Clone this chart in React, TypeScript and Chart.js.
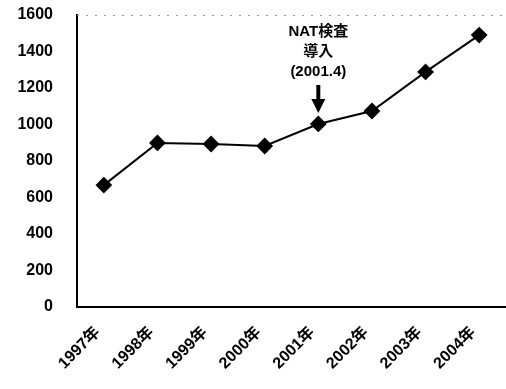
import React, { useEffect, useRef } from "react";
import { Chart, registerables } from "chart.js";

Chart.register(...registerables);

const categories = ["1997年", "1998年", "1999年", "2000年", "2001年", "2002年", "2003年", "2004年"];
const values = [668, 899, 893, 882, 1003, 1074, 1288, 1490];
const yTicks = [0, 200, 400, 600, 800, 1000, 1200, 1400, 1600];
const annotationLines = ["NAT検査", "導入", "(2001.4)"];
const annotationIndex = 4;

const FONT = '"Liberation Sans", "Noto Sans CJK JP", Arial, sans-serif';

const annotationPlugin = {
  id: "natAnnotation",
  afterDatasetsDraw(chart: any) {
    const ctx = chart.ctx;
    const meta = chart.getDatasetMeta(0);
    const pt = meta.data[annotationIndex];
    if (!pt) return;
    const x = pt.x;
    const y = pt.y;
    ctx.save();
    ctx.fillStyle = "#000";
    ctx.strokeStyle = "#000";
    ctx.font = `bold 15px ${FONT}`;
    ctx.textAlign = "center";
    ctx.textBaseline = "middle";
    const offsets = [-92, -72, -52];
    annotationLines.forEach((t, i) => ctx.fillText(t, x, y + offsets[i]));
    // arrow
    ctx.lineWidth = 4;
    ctx.beginPath();
    ctx.moveTo(x, y - 39);
    ctx.lineTo(x, y - 22);
    ctx.stroke();
    ctx.beginPath();
    ctx.moveTo(x - 7, y - 25);
    ctx.lineTo(x + 7, y - 25);
    ctx.lineTo(x, y - 11);
    ctx.closePath();
    ctx.fill();
    // faint dotted top border
    const a = chart.chartArea;
    ctx.setLineDash([2, 7]);
    ctx.lineWidth = 1;
    ctx.strokeStyle = "#999";
    ctx.beginPath();
    ctx.moveTo(a.left, a.top + 0.5);
    ctx.lineTo(a.right, a.top + 0.5);
    ctx.stroke();
    ctx.restore();
  },
};

export default function App() {
  const ref = useRef<HTMLCanvasElement>(null);
  useEffect(() => {
    if (!ref.current) return;
    const chart = new Chart(ref.current, {
      type: "line",
      data: {
        labels: categories,
        datasets: [
          {
            data: values,
            borderColor: "#000",
            backgroundColor: "#000",
            borderWidth: 2,
            pointStyle: "rectRot",
            pointRadius: 7,
            pointHoverRadius: 7,
            pointBackgroundColor: "#000",
            pointBorderColor: "#000",
            tension: 0,
            clip: false as any,
          },
        ],
      },
      options: {
        animation: false,
        responsive: true,
        maintainAspectRatio: false,
        layout: { padding: 0, autoPadding: false },
        plugins: { legend: { display: false }, tooltip: { enabled: false } },
        scales: {
          x: {
            offset: true,
            grid: { display: false, drawTicks: false },
            border: { display: true, color: "#000", width: 2 },
            ticks: {
              color: "#000",
              font: { family: FONT, size: 16, weight: "bold" },
              maxRotation: 45,
              minRotation: 45,
              padding: 16,
              labelOffset: -6,
              autoSkip: false,
            },
            afterFit(scale: any) {
              scale.height = 82;
              scale.paddingLeft = 0;
              scale.paddingRight = 0;
            },
          },
          y: {
            min: 0,
            max: 1600,
            afterBuildTicks(scale: any) {
              scale.ticks = yTicks.map((v) => ({ value: v }));
            },
            grid: { display: false, drawTicks: false },
            border: { display: true, color: "#000", width: 2 },
            ticks: {
              color: "#000",
              font: { family: FONT, size: 16, weight: "bold" },
              padding: 24,
              callback: (v: any) => String(v),
            },
            afterFit(scale: any) {
              scale.width = 77;
              scale.paddingTop = 15;
              scale.paddingBottom = 0;
            },
          },
        },
      },
      plugins: [annotationPlugin],
    });
    return () => chart.destroy();
  }, []);
  return (
    <div style={{ position: "fixed", left: 0, top: 0, width: 506, height: 389, background: "#fff" }}>
      <canvas ref={ref} />
    </div>
  );
}
